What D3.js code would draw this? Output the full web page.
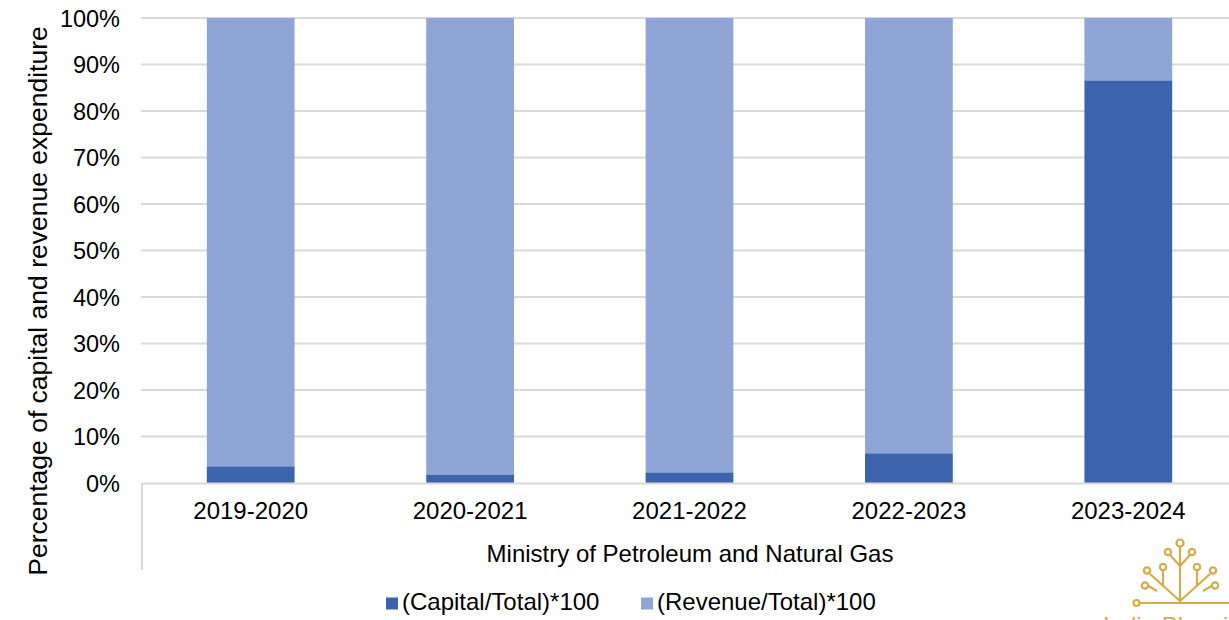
<!DOCTYPE html>
<html><head><meta charset="utf-8">
<script src="https://cdn.jsdelivr.net/npm/d3@7"></script>
<style>body{margin:0;background:#fff}svg{display:block;font-family:"Liberation Sans",Arial,sans-serif}</style>
</head><body><svg id="c" width="1229" height="620"></svg>
<script>
const categories = ["2019-2020","2020-2021","2021-2022","2022-2023","2023-2024"];
const capital = [3.6, 1.85, 2.3, 6.4, 86.6];
const revenue = [96.4, 98.15, 97.7, 93.6, 13.4];
const seriesNames = ["(Capital/Total)*100","(Revenue/Total)*100"];
const yTicks = [0,10,20,30,40,50,60,70,80,90,100];
const colors = ["#3C64AD","#8FA5D5"];

const svg = d3.select("#c");
const pL = 141, pR = 1238, pT = 18, pB = 483;
const x = d3.scaleBand().domain(categories).range([pL, pR]).paddingInner(0.6).paddingOuter(0.3);
const y = d3.scaleLinear().domain([0,100]).range([pB, pT]);
const FONT = "Liberation Sans, Arial, sans-serif";

// gridlines
svg.append("g").selectAll("line").data(yTicks.filter(d=>d>0)).join("line")
  .attr("x1", pL).attr("x2", 1229).attr("y1", d=>y(d)).attr("y2", d=>y(d))
  .attr("stroke", "#d9d9d9").attr("stroke-width", 2);

// y tick labels
const yAxis = d3.axisLeft(y).tickValues(yTicks).tickFormat(d=>d+"%").tickSize(0).tickPadding(0);
const ga = svg.append("g").attr("transform", `translate(120,0)`).call(yAxis);
ga.select(".domain").remove();
ga.selectAll("text").attr("font-size", 23.5).attr("fill", "#000").attr("font-family",FONT).attr("dy","0.35em");

// bars
const stacked = categories.map((c,i)=>({c, vals:[capital[i], revenue[i]]}));
stacked.forEach(d=>{
  let acc = 0;
  d.vals.forEach((v,k)=>{
    svg.append("rect").attr("x", x(d.c)).attr("width", x.bandwidth())
      .attr("y", y(acc+v)).attr("height", y(acc)-y(acc+v)).attr("fill", colors[k]);
    acc += v;
  });
});

// axis line and category box
svg.append("line").attr("x1", pL).attr("x2", 1229).attr("y1", pB+0.5).attr("y2", pB+0.5).attr("stroke","#d9d9d9").attr("stroke-width",2);
svg.append("line").attr("x1", pL+1).attr("x2", pL+1).attr("y1", pB).attr("y2", 570).attr("stroke","#d9d9d9").attr("stroke-width",2);

const xAxis = d3.axisBottom(x).tickSize(0).tickPadding(0);
const gx = svg.append("g").attr("transform", `translate(0,${pB})`).call(xAxis);
gx.select(".domain").remove();
gx.selectAll("text").attr("font-size", 24).attr("fill","#000").attr("font-family",FONT).attr("y", 36).attr("dy", 0);

svg.append("text").attr("x", 690).attr("y", 562).attr("text-anchor","middle").attr("font-size",24).text("Ministry of Petroleum and Natural Gas");

svg.append("text").attr("transform","translate(47,301) rotate(-90)").attr("text-anchor","middle").attr("font-size",26.5).text("Percentage of capital and revenue expenditure");

// legend
const legX = [386, 641];
seriesNames.forEach((n,i)=>{
  svg.append("rect").attr("x", legX[i]).attr("y", 597.5).attr("width", 12).attr("height", 12).attr("fill", colors[i]);
  svg.append("text").attr("x", legX[i]+16).attr("y", 609.5).attr("font-size", 24).text(n);
});

// watermark logo
const wm = svg.append("g").attr("stroke","#D4AD4A").attr("fill","none").attr("stroke-width",2.2);
wm.append("line").attr("x1",1140).attr("x2",1229).attr("y1",603).attr("y2",603);
wm.append("circle").attr("cx",1136.5).attr("cy",603).attr("r",3);
wm.append("line").attr("x1",1180).attr("x2",1180).attr("y1",546.5).attr("y2",603);
wm.append("circle").attr("cx",1180).attr("cy",543).attr("r",3.5);
[-1,1].forEach(s=>{
  wm.append("path").attr("d",`M1180,601 L${1180+s*30},574`);
  wm.append("circle").attr("cx",1180+s*33).attr("cy",570.5).attr("r",3.2);
  wm.append("path").attr("d",`M1180,566 L${1180+s*10},555`);
  wm.append("circle").attr("cx",1180+s*12).attr("cy",552).attr("r",3.2);
  wm.append("path").attr("d",`M${1180+s*17},586 L${1180+s*17},570.5`);
  wm.append("circle").attr("cx",1180+s*17).attr("cy",567).attr("r",3.2);
  wm.append("path").attr("d",`M${1180+s*23},591 L${1180+s*31.5},586`);
  wm.append("circle").attr("cx",1180+s*35).attr("cy",585.5).attr("r",3.2);
});
svg.append("text").attr("x",1103).attr("y",634).attr("font-size",24).attr("fill","#D4AD4A").text("India Planning");
</script></body></html>
